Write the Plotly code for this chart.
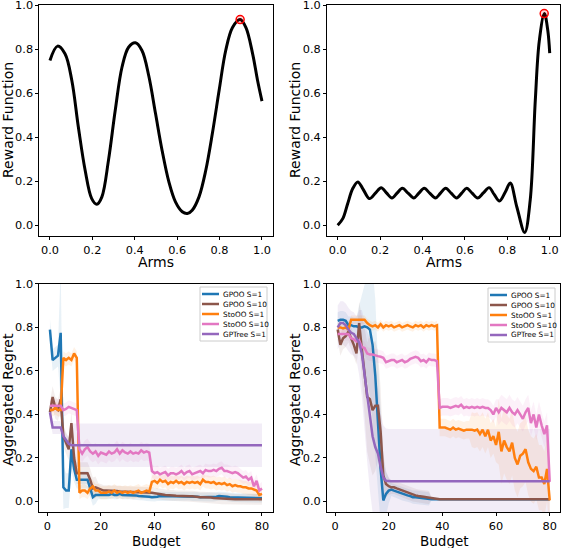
'''Reward functions and aggregated regret of the tree search methods'''

import plotly.graph_objs as go

# top row: reward functions
arms_a = [0.0, 0.036, 0.071, 0.103, 0.134, 0.166, 0.197, 0.221, 0.245, 0.276,
          0.308, 0.34, 0.371, 0.403, 0.434, 0.466, 0.498, 0.529, 0.561, 0.592,
          0.624, 0.648, 0.671, 0.703, 0.735, 0.766, 0.798, 0.829, 0.861, 0.897,
          0.924, 0.956, 0.979, 1.0]
reward_a = [0.75, 0.815, 0.78, 0.66, 0.447, 0.25, 0.121, 0.095, 0.129, 0.295,
            0.523, 0.72, 0.81, 0.83, 0.795, 0.68, 0.508, 0.34, 0.197, 0.106,
            0.061, 0.053, 0.068, 0.129, 0.25, 0.417, 0.614, 0.795, 0.90, 0.936,
            0.90, 0.78, 0.66, 0.565]
best_a = (0.897, 0.936)

arms_b = [0.0, 0.024, 0.047, 0.071, 0.095, 0.118, 0.15, 0.178, 0.205, 0.23,
          0.256, 0.28, 0.305, 0.332, 0.359, 0.383, 0.408, 0.434, 0.461, 0.485,
          0.509, 0.535, 0.561, 0.585, 0.608, 0.634, 0.66, 0.687, 0.714, 0.738,
          0.763, 0.79, 0.814, 0.845, 0.882, 0.908, 0.932, 0.951, 0.975, 0.991,
          1.0]
reward_b = [0.0, 0.03, 0.098, 0.167, 0.197, 0.167, 0.121, 0.146, 0.171, 0.147,
            0.124, 0.146, 0.168, 0.146, 0.124, 0.146, 0.168, 0.146, 0.124, 0.146,
            0.168, 0.146, 0.124, 0.146, 0.168, 0.146, 0.124, 0.147, 0.171, 0.14,
            0.11, 0.15, 0.192, 0.083, -0.033, 0.114, 0.568, 0.84, 0.963, 0.886,
            0.783]
best_b = (0.974, 0.963)

# bottom row: mean regret per budget 1..80
budget = list(range(1, 81))
names = ['GPOO S=1', 'GPOO S=10', 'StoOO S=1', 'StoOO S=10', 'GPTree S=1']
colors = ['#1f77b4', '#8c564b', '#ff7f0e', '#e377c2', '#9467bd']
fills = ['rgba(31,119,180,0.1)', 'rgba(140,86,75,0.1)', 'rgba(255,127,14,0.1)',
         'rgba(227,119,194,0.1)', 'rgba(148,103,189,0.12)']

gpoo1_a = [0.79, 0.65, 0.66, 0.67, 0.775, 0.065, 0.05, 0.05, 0.24, 0.15,
           0.10, 0.10, 0.10, 0.10, 0.10, 0.06, 0.02, 0.03, 0.03, 0.03,
           0.03, 0.03, 0.03, 0.035, 0.03, 0.03, 0.035, 0.03, 0.03, 0.03,
           0.03, 0.028, 0.028, 0.025, 0.025, 0.025, 0.022, 0.022, 0.02, 0.02,
           0.022, 0.025, 0.025, 0.025, 0.022, 0.022, 0.025, 0.025, 0.025, 0.025,
           0.025, 0.025, 0.025, 0.022, 0.022, 0.022, 0.02, 0.02, 0.02, 0.02,
           0.02, 0.02, 0.022, 0.025, 0.025, 0.025, 0.022, 0.02, 0.018, 0.018,
           0.018, 0.018, 0.018, 0.018, 0.018, 0.018, 0.015, 0.015, 0.015, 0.015]
gpoo10_a = [0.41, 0.48, 0.43, 0.42, 0.47, 0.30, 0.27, 0.24, 0.36, 0.20,
            0.13, 0.13, 0.13, 0.13, 0.13, 0.10, 0.06, 0.065, 0.06, 0.055,
            0.05, 0.05, 0.05, 0.05, 0.048, 0.048, 0.046, 0.046, 0.045, 0.045,
            0.045, 0.044, 0.044, 0.043, 0.042, 0.042, 0.04, 0.04, 0.04, 0.038,
            0.035, 0.034, 0.032, 0.03, 0.03, 0.028, 0.028, 0.026, 0.025, 0.025,
            0.025, 0.025, 0.024, 0.024, 0.022, 0.022, 0.02, 0.02, 0.02, 0.02,
            0.018, 0.016, 0.015, 0.014, 0.012, 0.012, 0.011, 0.011, 0.01, 0.01,
            0.01, 0.01, 0.01, 0.01, 0.01, 0.01, 0.01, 0.01, 0.01, 0.01]
stoo1_a = [0.42, 0.42, 0.43, 0.42, 0.42, 0.66, 0.65, 0.66, 0.65, 0.68,
           0.66, 0.04, 0.05, 0.05, 0.04, 0.06, 0.07, 0.05, 0.05, 0.04,
           0.04, 0.04, 0.045, 0.04, 0.05, 0.04, 0.045, 0.04, 0.045, 0.04,
           0.045, 0.04, 0.045, 0.05, 0.04, 0.045, 0.05, 0.045, 0.09, 0.095,
           0.085, 0.10, 0.09, 0.095, 0.08, 0.09, 0.085, 0.095, 0.085, 0.09,
           0.08, 0.09, 0.085, 0.09, 0.085, 0.09, 0.08, 0.10, 0.09, 0.09,
           0.085, 0.09, 0.08, 0.085, 0.08, 0.085, 0.075, 0.08, 0.07, 0.075,
           0.07, 0.07, 0.065, 0.065, 0.06, 0.06, 0.055, 0.05, 0.03, 0.035]
stoo10_a = [0.44, 0.44, 0.44, 0.44, 0.44, 0.42, 0.425, 0.435, 0.43, 0.425,
            0.42, 0.24, 0.22, 0.24, 0.25, 0.23, 0.22, 0.23, 0.21, 0.225,
            0.22, 0.215, 0.23, 0.22, 0.225, 0.24, 0.22, 0.235, 0.225, 0.22,
            0.23, 0.22, 0.225, 0.22, 0.235, 0.225, 0.23, 0.225, 0.14, 0.13,
            0.135, 0.125, 0.13, 0.135, 0.12, 0.13, 0.13, 0.125, 0.13, 0.14,
            0.125, 0.135, 0.14, 0.125, 0.13, 0.135, 0.14, 0.13, 0.145, 0.14,
            0.14, 0.145, 0.14, 0.15, 0.155, 0.14, 0.14, 0.135, 0.13, 0.135,
            0.13, 0.12, 0.11, 0.115, 0.10, 0.11, 0.07, 0.095, 0.05, 0.06]
gptree_a = [0.41, 0.34, 0.34, 0.34, 0.34, 0.30, 0.28, 0.265] + [0.258] * 72

gpoo1_b = [0.83, 0.835, 0.835, 0.83, 0.81, 0.81, 0.805, 0.805, 0.80, 0.80,
           0.805, 0.80, 0.79, 0.72, 0.58, 0.35, 0.15, 0.005, 0.035, 0.05,
           0.055, 0.05, 0.045, 0.04, 0.035, 0.03, 0.028, 0.025, 0.02, 0.02,
           0.018, 0.018, 0.015, 0.013, 0.012] + [0.01] * 45
gpoo10_b = [0.79, 0.72, 0.75, 0.76, 0.78, 0.75, 0.72, 0.68, 0.82, 0.70,
            0.60, 0.48, 0.47, 0.42, 0.44, 0.44, 0.32, 0.12, 0.08, 0.07,
            0.065, 0.065, 0.06, 0.055, 0.05, 0.045, 0.04, 0.035, 0.03, 0.028,
            0.025, 0.025, 0.022, 0.02, 0.018, 0.015, 0.012] + [0.01] * 43
stoo1_b = [0.80, 0.80, 0.795, 0.80, 0.79, 0.835, 0.835, 0.835, 0.835, 0.835,
           0.835, 0.82, 0.81, 0.805, 0.81, 0.80, 0.815, 0.80, 0.81, 0.805,
           0.81, 0.80, 0.805, 0.81, 0.80, 0.805, 0.81, 0.805, 0.80, 0.81,
           0.805, 0.81, 0.80, 0.81, 0.805, 0.81, 0.805, 0.81, 0.34, 0.34,
           0.34, 0.335, 0.33, 0.34, 0.33, 0.335, 0.33, 0.325, 0.33, 0.33,
           0.33, 0.325, 0.33, 0.31, 0.33, 0.30, 0.33, 0.28, 0.30, 0.26,
           0.32, 0.23, 0.28, 0.25, 0.23, 0.27, 0.20, 0.17, 0.21, 0.22,
           0.24, 0.18, 0.15, 0.14, 0.16, 0.11, 0.11, 0.08, 0.15, 0.005]
stoo10_b = [0.77, 0.77, 0.77, 0.77, 0.77, 0.75, 0.745, 0.735, 0.74, 0.71,
            0.705, 0.68, 0.675, 0.675, 0.67, 0.668, 0.665, 0.66, 0.64, 0.645,
            0.65, 0.65, 0.64, 0.645, 0.65, 0.64, 0.645, 0.655, 0.66, 0.665,
            0.66, 0.645, 0.65, 0.64, 0.655, 0.65, 0.65, 0.645, 0.43, 0.435,
            0.435, 0.435, 0.43, 0.435, 0.44, 0.435, 0.445, 0.43, 0.435, 0.43,
            0.435, 0.43, 0.435, 0.43, 0.435, 0.43, 0.43, 0.42, 0.40, 0.43,
            0.41, 0.43, 0.42, 0.41, 0.43, 0.41, 0.40, 0.42, 0.40, 0.38,
            0.41, 0.43, 0.36, 0.40, 0.34, 0.40, 0.35, 0.31, 0.35, 0.09]
gptree_b = [0.80, 0.82, 0.82, 0.81, 0.79, 0.775, 0.77, 0.75, 0.73, 0.68,
            0.58, 0.48, 0.40, 0.30, 0.25, 0.22, 0.16, 0.11, 0.095] + [0.093] * 61

# half width of the shaded bands, read as piecewise levels
spread_a = [
    [0.05] * 4 + [0.3, 0.1, 0.08, 0.08, 0.1, 0.06] + [0.04] * 8 + [0.02] * 62,
    [0.05] * 10 + [0.05] * 8 + [0.025] * 62,
    [0.03] * 11 + [0.03] * 27 + [0.03] * 42,
    [0.03] * 11 + [0.04] * 27 + [0.03] * 42,
    [0.03] * 8 + [0.10] * 72,
]
spread_b = [
    [0.04] * 8 + [0.1, 0.15, 0.2, 0.25, 0.3, 0.35, 0.35, 0.3, 0.25, 0.2,
                  0.1, 0.06] + [0.03] * 15 + [0.005] * 45,
    [0.05] * 8 + [0.1, 0.15, 0.2, 0.25, 0.3, 0.3, 0.3, 0.25, 0.2, 0.1,
                  0.06, 0.04] + [0.03] * 15 + [0.005] * 45,
    [0.02] * 38 + [0.04] * 12 + [0.08] * 10 + [0.15] * 20,
    [0.03] * 38 + [0.04] * 22 + [0.06] * 20,
    [0.1] * 8 + [0.15, 0.2, 0.25, 0.3, 0.35, 0.35, 0.3, 0.3, 0.25, 0.24,
                 0.24] + [0.24] * 61,
]

series_a = [gpoo1_a, gpoo10_a, stoo1_a, stoo10_a, gptree_a]
series_b = [gpoo1_b, gpoo10_b, stoo1_b, stoo10_b, gptree_b]

FONT = 'DejaVu Sans'
W, H = 562, 548


def px(x):
    return x / W


def py(y):
    return 1 - y / H


def axis_style(domain, rng, tickvals, ticktext, anchor):
    return dict(
        domain=domain, range=rng, anchor=anchor,
        tickvals=tickvals, ticktext=ticktext,
        showline=True, mirror=True, linecolor='black', linewidth=1,
        ticks='outside', ticklen=3, tickwidth=1, tickcolor='black',
        showgrid=False, zeroline=False, ticklabeloverflow='allow',
        tickfont=dict(family=FONT, size=11.3, color='black'),
        automargin=False,
    )


def add_title(fig, text, x, y, angle=0, size=14):
    fig.add_annotation(x=px(x), y=py(y), xref='paper', yref='paper', text=text,
                       showarrow=False, textangle=angle, borderpad=0,
                       xanchor='center', yanchor='middle',
                       font=dict(family=FONT, size=size, color='black'))


def add_legend(fig, left, top):
    '''Small boxed legend drawn in pixels, like the matplotlib one'''
    fig.add_shape(type='rect', xref='paper', yref='paper',
                  x0=px(left), x1=px(left + 67), y0=py(top), y1=py(top + 54),
                  line=dict(color='#cccccc', width=1), fillcolor='white',
                  layer='above')
    for i, (name, col) in enumerate(zip(names, colors)):
        y = top + 7 + i * 10
        fig.add_shape(type='line', xref='paper', yref='paper',
                      x0=px(left + 2), x1=px(left + 19), y0=py(y), y1=py(y),
                      line=dict(color=col, width=2.5), layer='above')
        fig.add_annotation(x=px(left + 22), y=py(y), xref='paper', yref='paper',
                           text=name, showarrow=False, xanchor='left',
                           yanchor='middle', borderpad=0,
                           font=dict(family=FONT, size=7.3, color='black'))


def make_graph():
    fig = go.Figure()

    # reward function curves with the best arm circled
    for arms, reward, best, xa, ya in [(arms_a, reward_a, best_a, 'x', 'y'),
                                       (arms_b, reward_b, best_b, 'x2', 'y2')]:
        fig.add_trace(go.Scatter(x=arms, y=reward, mode='lines', xaxis=xa, yaxis=ya,
                                 line=dict(color='black', width=3, shape='spline',
                                           smoothing=1.0),
                                 showlegend=False))
        fig.add_trace(go.Scatter(x=[best[0]], y=[best[1]], mode='markers',
                                 xaxis=xa, yaxis=ya, showlegend=False,
                                 marker=dict(symbol='circle', size=8,
                                             color='rgba(255,0,0,0.15)',
                                             line=dict(color='red', width=1.5))))

    # regret: bands first, then mean lines
    for series, spread, xa, ya in [(series_a, spread_a, 'x3', 'y3'),
                                   (series_b, spread_b, 'x4', 'y4')]:
        for mean, sp, fc in zip(series, spread, fills):
            upper = [m + s for m, s in zip(mean, sp)]
            lower = [m - s for m, s in zip(mean, sp)]
            fig.add_trace(go.Scatter(x=budget + budget[::-1], y=upper + lower[::-1],
                                     fill='toself', fillcolor=fc, mode='lines',
                                     line=dict(width=0), hoverinfo='skip',
                                     xaxis=xa, yaxis=ya, showlegend=False))
        for mean, name, col in zip(series, names, colors):
            fig.add_trace(go.Scatter(x=budget, y=mean, mode='lines', name=name,
                                     line=dict(color=col, width=2.5),
                                     xaxis=xa, yaxis=ya, showlegend=False))

    add_legend(fig, 200, 287)
    add_legend(fig, 488, 288)

    # axis titles placed where matplotlib put them
    add_title(fig, 'Arms', 156, 262)
    add_title(fig, 'Arms', 444, 262)
    add_title(fig, 'Budget', 156, 540.5, size=13.5)
    add_title(fig, 'Budget', 444, 540.5, size=13.5)
    add_title(fig, 'Reward Function', 8, 120, -90)
    add_title(fig, 'Reward Function', 295, 120, -90)
    add_title(fig, 'Aggregated Regret', 8, 400, -90)
    add_title(fig, 'Aggregated Regret', 295, 400, -90)

    top_y = [0.569, 0.990]
    bot_y = [0.065, 0.482]
    left_x = [0.070, 0.485]
    right_x = [0.582, 0.997]
    yv = [0, 0.2, 0.4, 0.6, 0.8, 1.0]
    yt = ['0.0', '0.2', '0.4', '0.6', '0.8', '1.0']
    bv = [0, 20, 40, 60, 80]
    bt = ['0', '20', '40', '60', '80']

    fig.update_layout(
        width=W, height=H,
        margin=dict(l=0, r=0, t=0, b=0),
        paper_bgcolor='white', plot_bgcolor='white',
        showlegend=False,
        xaxis=axis_style(left_x, [-0.05, 1.05], yv, yt, 'y'),
        yaxis=axis_style(top_y, [-0.05, 1.0], yv, yt, 'x'),
        xaxis2=axis_style(right_x, [-0.05, 1.05], yv, yt, 'y2'),
        yaxis2=axis_style(top_y, [-0.05, 1.0], yv, yt, 'x2'),
        xaxis3=axis_style(left_x, [-2.95, 83.95], bv, bt, 'y3'),
        yaxis3=axis_style(bot_y, [-0.05, 1.0], yv, yt, 'x3'),
        xaxis4=axis_style(right_x, [-2.95, 83.95], bv, bt, 'y4'),
        yaxis4=axis_style(bot_y, [-0.05, 1.0], yv, yt, 'x4'),
    )

    # drop the page margin so the figure sits at the window corner
    fig.write_html('out.html', config={'displayModeBar': False},
                   post_script="document.body.style.margin='0';")


make_graph()
